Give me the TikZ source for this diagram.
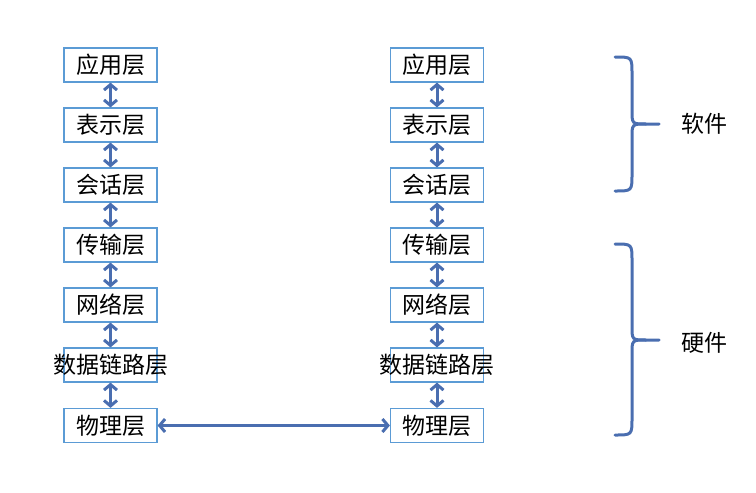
\documentclass[tikz,border=0pt]{standalone}
\usepackage{fontspec}
\newfontfamily\cjk{Noto Sans CJK SC}
\usepackage{tikz}
\usetikzlibrary{arrows.meta,positioning}
\definecolor{boxblue}{HTML}{5B9BD5}
\definecolor{arrowblue}{HTML}{4A6EB0}

\begin{document}
\begin{tikzpicture}[x=1pt,y=-1pt,
  layer/.style={draw=boxblue,line width=1.2pt,minimum width=93pt,minimum height=34pt,inner sep=0pt,font=\cjk\fontsize{23}{26}\selectfont},
  link/.style={arrowblue,line width=3pt,{Straight Barb[length=5.5pt,width=13pt]}-{Straight Barb[length=5.5pt,width=13pt]}},
  brace/.style={arrowblue,line width=3pt,line cap=round},
  side/.style={font=\cjk\fontsize{23}{26}\selectfont}]
\useasboundingbox (0,0) rectangle (756,493);
%%%%%%%%%%%%%%%% left stack
\node[layer] (app1) at (110.5,65) {应用层};
\node[layer] (pres1) at (110.5,125) {表示层};
\node[layer] (sess1) at (110.5,185) {会话层};
\node[layer] (trans1) at (110.5,245) {传输层};
\node[layer] (net1) at (110.5,305) {网络层};
\node[layer] (link1) at (110.5,365) {\makebox[0pt]{数据链路层}};
\node[layer] (phys1) at (110.5,425.5) {物理层};
%%%%%%%%%%%%%%%% right stack
\node[layer] (app2) at (437,65) {应用层};
\node[layer] (pres2) at (437,125) {表示层};
\node[layer] (sess2) at (437,185) {会话层};
\node[layer] (trans2) at (437,245) {传输层};
\node[layer] (net2) at (437,305) {网络层};
\node[layer] (link2) at (437,365) {\makebox[0pt]{数据链路层}};
\node[layer] (phys2) at (437,425.5) {物理层};
%%%%%%%%%%%%%%%% arrows
\foreach \s in {1,2}{
  \draw[link] (app\s) -- (pres\s);
  \draw[link] (pres\s) -- (sess\s);
  \draw[link] (sess\s) -- (trans\s);
  \draw[link] (trans\s) -- (net\s);
  \draw[link] (net\s) -- (link\s);
  \draw[link] (link\s) -- (phys\s);
}
\draw[link] (phys1) -- (phys2);
%%%%%%%%%%%%%%%% braces
\draw[brace] (615,57) .. controls (632,57) .. (632,74) -- (632,110)
  .. controls (632,124) .. (646,124) -- (659,124);
\draw[brace] (615,191) .. controls (632,191) .. (632,174) -- (632,138)
  .. controls (632,124) .. (646,124);
\node[side] (soft) at (704,124) {软件};
%%%%%%%%%%%%%%%%
\draw[brace] (615,244) .. controls (632,244) .. (632,261) -- (632,326)
  .. controls (632,340) .. (646,340) -- (659,340);
\draw[brace] (615,435) .. controls (632,435) .. (632,418) -- (632,354)
  .. controls (632,340) .. (646,340);
\node[side] (hard) at (704,343) {硬件};
\end{tikzpicture}
\end{document}
